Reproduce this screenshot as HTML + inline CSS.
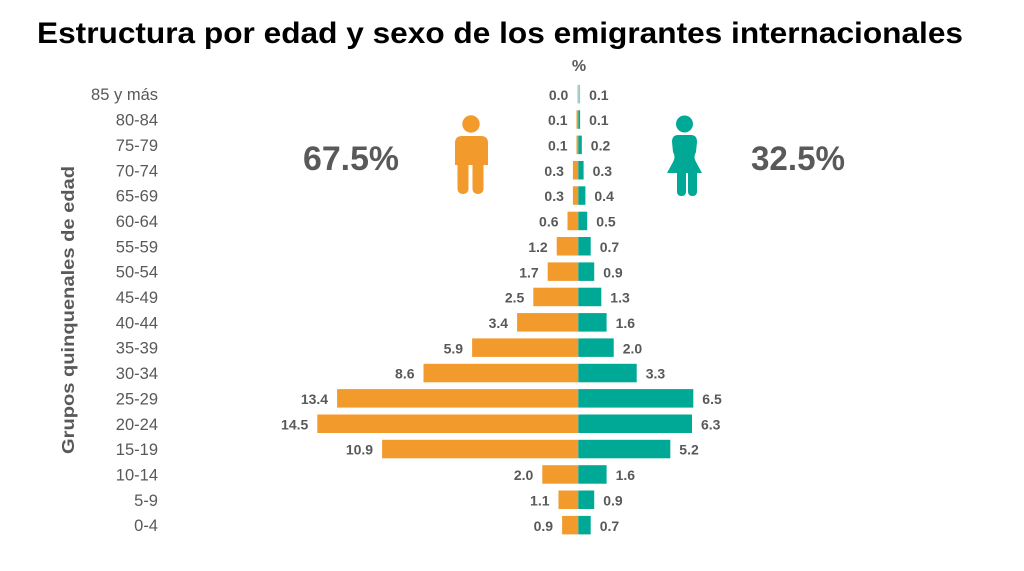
<!DOCTYPE html>
<html><head><meta charset="utf-8"><style>
html,body{margin:0;padding:0;background:#fff;}
svg{display:block;}
text{font-family:"Liberation Sans",Arial,sans-serif;}
</style></head><body>
<svg width="1024" height="571" viewBox="0 0 1024 571" xmlns="http://www.w3.org/2000/svg">
<rect width="1024" height="571" fill="#fff"/>
<text x="37" y="43" font-size="30" font-weight="bold" fill="#000" textLength="926" lengthAdjust="spacingAndGlyphs">Estructura por edad y sexo de los emigrantes internacionales</text>
<text x="579" y="71" font-size="16" font-weight="bold" fill="#595959" text-anchor="middle">%</text>
<text transform="translate(74,310) rotate(-90)" font-size="17.5" font-weight="bold" fill="#595959" text-anchor="middle" textLength="288" lengthAdjust="spacingAndGlyphs">Grupos quinquenales de edad</text>
<text x="303" y="170" font-size="34" font-weight="bold" fill="#595959" textLength="96" lengthAdjust="spacingAndGlyphs">67.5%</text>
<text x="751" y="170" font-size="34" font-weight="bold" fill="#595959" textLength="94" lengthAdjust="spacingAndGlyphs">32.5%</text>
<!-- male icon -->
<g fill="#F39A2C">
<circle cx="471" cy="124" r="8.7"/>
<path d="M462,136 L481,136 Q488,136 488,143 L488,165 L455,165 L455,143 Q455,136 462,136 Z"/>
<rect x="457.5" y="160" width="11" height="34" rx="5"/>
<rect x="472.5" y="160" width="11" height="34" rx="5"/>
</g>
<!-- female icon -->
<g fill="#00A896">
<circle cx="684.5" cy="124" r="8.5"/>
<path d="M678,135 L691,135 Q697,135 697,142 L696,152 Q693,157 696,162 L702,173 L667,173 L673,162 Q676,157 673,152 L672,142 Q672,135 678,135 Z"/>
<rect x="677" y="168" width="9" height="28" rx="4"/>
<rect x="688" y="168" width="9" height="28" rx="4"/>
</g>
<g font-size="16.5" fill="#595959" text-anchor="end">
<text x="158" y="100">85 y más</text>
<text x="158" y="125.5">80-84</text>
<text x="158" y="151">75-79</text>
<text x="158" y="176.3">70-74</text>
<text x="158" y="201.6">65-69</text>
<text x="158" y="227">60-64</text>
<text x="158" y="252.3">55-59</text>
<text x="158" y="277.7">50-54</text>
<text x="158" y="303">45-49</text>
<text x="158" y="328.4">40-44</text>
<text x="158" y="353.7">35-39</text>
<text x="158" y="379">30-34</text>
<text x="158" y="404.4">25-29</text>
<text x="158" y="429.8">20-24</text>
<text x="158" y="455.1">15-19</text>
<text x="158" y="480.5">10-14</text>
<text x="158" y="505.8">5-9</text>
<text x="158" y="531.2">0-4</text>
</g>
<g>
<rect x="577.3" y="84.9" width="1" height="18.5" fill="#F7C48A"/>
<rect x="578.3" y="84.9" width="1.8" height="18.5" fill="#7FD3CA"/>
<rect x="576.5" y="110.3" width="1.8" height="18.5" fill="#F39A2C"/>
<rect x="578.3" y="110.3" width="1.8" height="18.5" fill="#00A896"/>
<rect x="576.5" y="135.6" width="1.8" height="18.5" fill="#F39A2C"/>
<rect x="578.3" y="135.6" width="3.5" height="18.5" fill="#00A896"/>
<rect x="572.9" y="161" width="5.4" height="18.5" fill="#F39A2C"/>
<rect x="578.3" y="161" width="5.3" height="18.5" fill="#00A896"/>
<rect x="572.9" y="186.3" width="5.4" height="18.5" fill="#F39A2C"/>
<rect x="578.3" y="186.3" width="7.1" height="18.5" fill="#00A896"/>
<rect x="567.5" y="211.7" width="10.8" height="18.5" fill="#F39A2C"/>
<rect x="578.3" y="211.7" width="8.9" height="18.5" fill="#00A896"/>
<rect x="556.7" y="237" width="21.6" height="18.5" fill="#F39A2C"/>
<rect x="578.3" y="237" width="12.4" height="18.5" fill="#00A896"/>
<rect x="547.7" y="262.4" width="30.6" height="18.5" fill="#F39A2C"/>
<rect x="578.3" y="262.4" width="15.9" height="18.5" fill="#00A896"/>
<rect x="533.3" y="287.7" width="45" height="18.5" fill="#F39A2C"/>
<rect x="578.3" y="287.7" width="23" height="18.5" fill="#00A896"/>
<rect x="517.1" y="313.1" width="61.2" height="18.5" fill="#F39A2C"/>
<rect x="578.3" y="313.1" width="28.3" height="18.5" fill="#00A896"/>
<rect x="472.1" y="338.4" width="106.2" height="18.5" fill="#F39A2C"/>
<rect x="578.3" y="338.4" width="35.4" height="18.5" fill="#00A896"/>
<rect x="423.5" y="363.8" width="154.8" height="18.5" fill="#F39A2C"/>
<rect x="578.3" y="363.8" width="58.4" height="18.5" fill="#00A896"/>
<rect x="337.1" y="389.1" width="241.2" height="18.5" fill="#F39A2C"/>
<rect x="578.3" y="389.1" width="115" height="18.5" fill="#00A896"/>
<rect x="317.3" y="414.5" width="261" height="18.5" fill="#F39A2C"/>
<rect x="578.3" y="414.5" width="113.7" height="18.5" fill="#00A896"/>
<rect x="382.1" y="439.8" width="196.2" height="18.5" fill="#F39A2C"/>
<rect x="578.3" y="439.8" width="92" height="18.5" fill="#00A896"/>
<rect x="542.3" y="465.2" width="36" height="18.5" fill="#F39A2C"/>
<rect x="578.3" y="465.2" width="28.3" height="18.5" fill="#00A896"/>
<rect x="558.5" y="490.5" width="19.8" height="18.5" fill="#F39A2C"/>
<rect x="578.3" y="490.5" width="15.9" height="18.5" fill="#00A896"/>
<rect x="562.1" y="515.9" width="16.2" height="18.5" fill="#F39A2C"/>
<rect x="578.3" y="515.9" width="12.4" height="18.5" fill="#00A896"/>
</g>
<g font-size="14" font-weight="bold" fill="#595959">
<g text-anchor="end">
<text x="568.3" y="99.8">0.0</text>
<text x="567.5" y="125.2">0.1</text>
<text x="567.5" y="150.5">0.1</text>
<text x="563.9" y="175.9">0.3</text>
<text x="563.9" y="201.2">0.3</text>
<text x="558.5" y="226.6">0.6</text>
<text x="547.7" y="251.9">1.2</text>
<text x="538.7" y="277.3">1.7</text>
<text x="524.3" y="302.6">2.5</text>
<text x="508.1" y="328">3.4</text>
<text x="463.1" y="353.3">5.9</text>
<text x="414.5" y="378.7">8.6</text>
<text x="328.1" y="404">13.4</text>
<text x="308.3" y="429.4">14.5</text>
<text x="373.1" y="454.7">10.9</text>
<text x="533.3" y="480.1">2.0</text>
<text x="549.5" y="505.4">1.1</text>
<text x="553.1" y="530.8">0.9</text>
</g>
<text x="589.1" y="99.8">0.1</text>
<text x="589.1" y="125.2">0.1</text>
<text x="590.8" y="150.5">0.2</text>
<text x="592.6" y="175.9">0.3</text>
<text x="594.4" y="201.2">0.4</text>
<text x="596.2" y="226.6">0.5</text>
<text x="599.7" y="251.9">0.7</text>
<text x="603.2" y="277.3">0.9</text>
<text x="610.3" y="302.6">1.3</text>
<text x="615.6" y="328">1.6</text>
<text x="622.7" y="353.3">2.0</text>
<text x="645.7" y="378.7">3.3</text>
<text x="702.3" y="404">6.5</text>
<text x="701" y="429.4">6.3</text>
<text x="679.3" y="454.7">5.2</text>
<text x="615.6" y="480.1">1.6</text>
<text x="603.2" y="505.4">0.9</text>
<text x="599.7" y="530.8">0.7</text>
</g>
</svg>
</body></html>
